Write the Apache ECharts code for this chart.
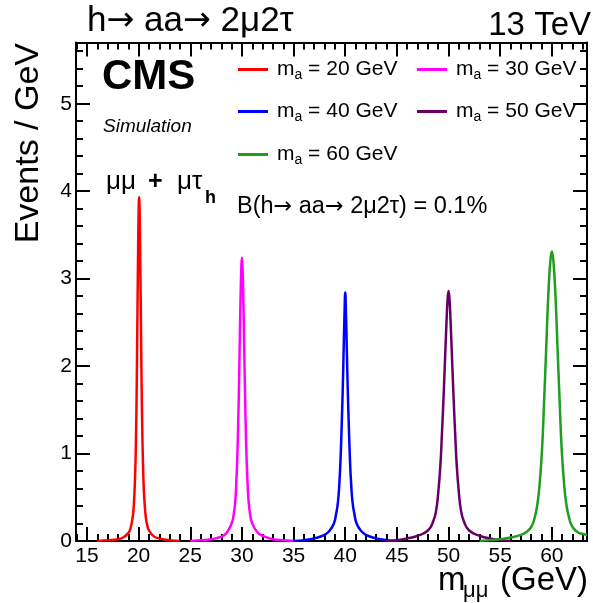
<!DOCTYPE html>
<html>
<head>
<meta charset="utf-8">
<script src="https://cdn.jsdelivr.net/npm/echarts@6/dist/echarts.min.js"></script>
<style>
html,body{margin:0;padding:0;background:#fff;}
#chart{width:593px;height:603px;}
</style>
</head>
<body>
<div id="chart"></div>
<script>
// ---- data ----
const xMin = 13.94, xMax = 63.4;
const yMin = 0, yMax = 5.7;
const xTickLabels = [15, 20, 25, 30, 35, 40, 45, 50, 55, 60];
const yTickLabels = [0, 1, 2, 3, 4, 5];

const seriesNames = ['m20', 'm30', 'm40', 'm50', 'm60'];
const legendLabels = ['20', '30', '40', '50', '60'];

const mass20 = [[16,0],[17,0.01],[18,0.02],[18.5,0.04],[19,0.09],[19.2,0.14],[19.4,0.25],[19.5,0.35],[19.6,0.55],[19.7,0.9],[19.75,1.2],[19.8,1.6],[19.85,2.15],[19.9,2.75],[19.95,3.3],[20.0,3.75],[20.05,3.93],[20.1,3.75],[20.15,3.3],[20.2,2.8],[20.25,2.2],[20.3,1.7],[20.35,1.3],[20.4,1.0],[20.5,0.6],[20.6,0.4],[20.7,0.27],[20.8,0.2],[21,0.12],[21.5,0.05],[22,0.03],[23,0.01],[24,0]];
const mass30 = [[25,0],[26,0.01],[27,0.02],[28,0.05],[28.5,0.09],[29,0.2],[29.2,0.3],[29.35,0.45],[29.45,0.65],[29.55,0.95],[29.65,1.4],[29.72,1.8],[29.8,2.35],[29.88,2.85],[29.95,3.15],[30.0,3.24],[30.05,3.15],[30.12,2.85],[30.2,2.35],[30.28,1.8],[30.35,1.4],[30.45,0.95],[30.55,0.65],[30.65,0.45],[30.8,0.3],[31,0.2],[31.5,0.1],[32,0.06],[33,0.02],[34,0.01],[35,0]];
const mass40 = [[35,0],[36,0.01],[37,0.03],[38,0.07],[38.5,0.12],[38.9,0.2],[39.1,0.3],[39.3,0.45],[39.45,0.7],[39.55,0.95],[39.65,1.3],[39.75,1.7],[39.85,2.2],[39.93,2.6],[40.0,2.84],[40.07,2.6],[40.15,2.2],[40.25,1.7],[40.35,1.3],[40.45,0.95],[40.55,0.7],[40.7,0.45],[40.9,0.3],[41.1,0.2],[41.5,0.12],[42,0.07],[43,0.03],[44,0.01],[45,0]];
const mass50 = [[44,0],[45,0.01],[46,0.03],[47,0.06],[48,0.12],[48.5,0.22],[48.8,0.35],[49.0,0.55],[49.2,0.85],[49.35,1.2],[49.5,1.6],[49.65,2.05],[49.8,2.5],[49.9,2.75],[50.0,2.86],[50.1,2.75],[50.2,2.5],[50.35,2.05],[50.5,1.6],[50.65,1.2],[50.8,0.85],[51.0,0.55],[51.2,0.35],[51.5,0.22],[52,0.12],[53,0.06],[54,0.03],[55,0.01],[56,0]];
const mass60 = [[53,0],[54,0.01],[55,0.02],[56,0.04],[57,0.07],[57.5,0.1],[58,0.16],[58.3,0.25],[58.6,0.42],[58.85,0.7],[59.05,1.05],[59.25,1.6],[59.45,2.2],[59.65,2.8],[59.85,3.2],[60.0,3.31],[60.15,3.2],[60.35,2.8],[60.55,2.2],[60.75,1.6],[60.95,1.05],[61.15,0.7],[61.4,0.42],[61.7,0.25],[62,0.16],[62.5,0.1],[63,0.08],[63.4,0.07]];
const seriesData = [mass20, mass30, mass40, mass50, mass60];
const seriesColors = ['#ff0000', '#ff00ff', '#0000ff', '#660066', '#1f9e1f'];

// tick positions
const xMinorTicks = [];
for (let v = 14; v <= 63; v += 1) xMinorTicks.push(v);
const yMinorTicks = [];
for (let i = 1; i <= 28; i++) yMinorTicks.push(+(i * 0.2).toFixed(1));

const FONT = 'Liberation Sans, Arial, Helvetica, sans-serif';
const ARROWFONT = 'DejaVu Sans, Liberation Sans, sans-serif';
const black = '#000';

function xAx(position, ticks, len, showLine, labels) {
  return {
    type: 'value', min: xMin, max: xMax, position: position,
    axisLine: { show: showLine, onZero: false, lineStyle: { color: black, width: 2 } },
    axisTick: { show: true, inside: true, length: len, customValues: ticks, lineStyle: { color: black, width: 2 } },
    axisLabel: labels ? { show: true, customValues: labels, color: black, fontSize: 21, fontFamily: FONT, margin: 5 } : { show: false },
    splitLine: { show: false }
  };
}
function yAx(position, ticks, len, showLine, labels) {
  return {
    type: 'value', min: yMin, max: yMax, position: position,
    axisLine: { show: showLine, onZero: false, lineStyle: { color: black, width: 2 } },
    axisTick: { show: true, inside: true, length: len, customValues: ticks, lineStyle: { color: black, width: 2 } },
    axisLabel: labels ? { show: true, customValues: labels, color: black, fontSize: 21, fontFamily: FONT, margin: 4 } : { show: false },
    splitLine: { show: false }
  };
}

const series = seriesNames.map((n, i) => ({
  name: n, type: 'line', xAxisIndex: 0, yAxisIndex: 0,
  data: seriesData[i], showSymbol: false, symbol: 'none',
  smooth: 0.5,
  lineStyle: { color: seriesColors[i], width: 2.5 },
  itemStyle: { color: seriesColors[i] },
  z: 3
}));

const legendPos = [[238, 59], [417, 59], [238, 101], [417, 101], [238, 144]];
const legends = seriesNames.map((n, i) => ({
  data: [n], left: legendPos[i][0], top: legendPos[i][1], padding: 0,
  icon: 'rect', itemWidth: 30, itemHeight: 3, selectedMode: false,
  formatter: () => '{m|m}{s|a}{t| = ' + legendLabels[i] + ' GeV}',
  textStyle: {
    color: black, fontFamily: FONT, fontSize: 21,
    rich: {
      m: { fontSize: 21, lineHeight: 26, fontFamily: FONT, color: black, padding: [0, 0, 0, 4] },
      s: { fontSize: 14, lineHeight: 6, verticalAlign: 'bottom', fontFamily: FONT, color: black },
      t: { fontSize: 21, lineHeight: 26, fontFamily: FONT, color: black }
    }
  }
}));

function txt(x, y, text, size, opts) {
  opts = opts || {};
  const st = {
    text: text, fill: black, fontFamily: FONT, fontSize: size,
    fontWeight: opts.weight || 'normal', fontStyle: opts.style || 'normal',
    align: opts.align || 'left', verticalAlign: 'middle'
  };
  if (opts.rich) st.rich = opts.rich;
  return { type: 'text', x: x, y: y, rotation: opts.rotation || 0, z: 10, style: st };
}
function arrowRich(size) {
  return {
    a: { fontSize: size, fontFamily: FONT, fill: black },
    r: { fontSize: size * 0.95, fontFamily: ARROWFONT, fill: black }
  };
}

const option = {
  animation: false,
  backgroundColor: '#fff',
  grid: { left: 76, right: 6, top: 42.5, bottom: 62, outerBoundsMode: 'none', containLabel: false },
  xAxis: [
    xAx('bottom', xTickLabels, 14, true, xTickLabels),
    xAx('bottom', xMinorTicks, 7, false, null),
    xAx('top', xTickLabels, 14, true, null),
    xAx('top', xMinorTicks, 7, false, null)
  ],
  yAxis: [
    yAx('left', yTickLabels, 14, true, yTickLabels),
    yAx('left', yMinorTicks, 7, false, null),
    yAx('right', yTickLabels, 14, true, null),
    yAx('right', yMinorTicks, 7, false, null)
  ],
  legend: legends,
  series: series,
  graphic: [
    txt(87, 21, '{a|h}{r|\u2192}{a| aa}{r|\u2192}{a| 2\u03bc2\u03c4}', 35, { rich: arrowRich(35) }),
    txt(591, 26, '13 TeV', 33, { align: 'right' }),
    txt(102, 77, 'CMS', 42, { weight: 'bold' }),
    txt(103, 127, 'Simulation', 19, { style: 'italic' }),
    txt(106, 182, '\u03bc\u03bc', 26),
    txt(148, 182, '+', 25, { weight: 'bold' }),
    txt(177, 182, '\u03bc\u03c4', 26),
    txt(205, 198, 'h', 18, { weight: 'bold' }),
    txt(237, 207, '{a|B(h}{r|\u2192}{a| aa}{r|\u2192}{a| 2\u03bc2\u03c4) = 0.1%}', 23.5, { rich: arrowRich(23.5) }),
    txt(438, 581, 'm', 33),
    txt(463, 591, '\u03bc\u03bc', 22),
    txt(500, 581, '(GeV)', 33),
    txt(29, 43, 'Events / GeV', 34, { align: 'right', rotation: Math.PI / 2 })
  ]
};

const chart = echarts.init(document.getElementById('chart'), null, { renderer: 'canvas' });
chart.setOption(option);
</script>
</body>
</html>
